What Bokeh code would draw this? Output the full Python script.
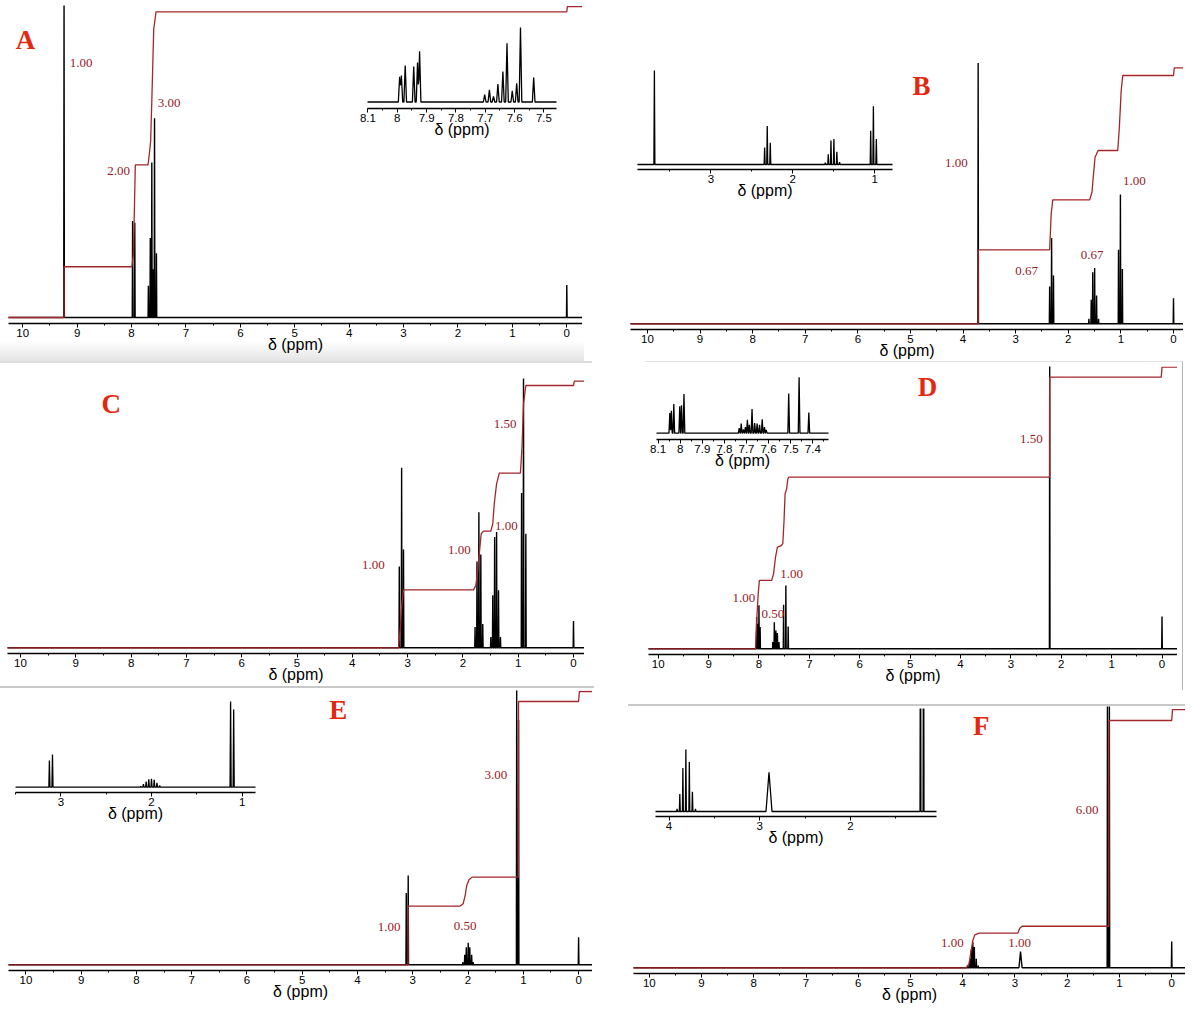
import numpy as np
from bokeh.plotting import figure
from bokeh.models import Range1d, SingleIntervalTicker, CustomJSTickFormatter, GridBox, Div
from bokeh.core.properties import value
from bokeh.embed import file_html
from bokeh.resources import INLINE

# ------------------------------------------------------------------ data
# Panel A (main spectrum: peak positions in ppm, relative heights)
A_ppm = [9.24, 7.98, 7.94, 7.69, 7.655, 7.627, 7.606, 7.577, 7.542, 0.0]
A_h = [1.05, 0.316, 0.31, 0.104, 0.26, 0.507, 0.158, 0.652, 0.21, 0.106]
A_int_ppm = [10.5, 9.24, 9.24, 7.993, 7.965, 7.93, 7.697, 7.676, 7.648, 7.627, 7.592, 7.55, 0.0, -0.01, -0.5]
A_int_val = [0, 0, 0.166, 0.166, 0.207, 0.499, 0.499, 0.529, 0.578, 0.709, 0.943, 1.0, 1.0, 1.017, 1.017]
A_labels = ["1.00", "3.00", "2.00"]
A_ins_ppm = [7.992, 7.986, 7.973, 7.944, 7.931, 7.924, 7.702, 7.686, 7.672, 7.657,
             7.64, 7.626, 7.608, 7.593, 7.58, 7.535]
A_ins_h = [0.34, 0.355, 0.49, 0.475, 0.53, 0.68, 0.1, 0.165, 0.075, 0.24,
           0.41, 0.79, 0.15, 0.25, 1.0, 0.33]

# Panel B
B_ppm = [3.713, 2.354, 2.317, 2.281, 1.608, 1.564, 1.535, 1.499, 1.462, 1.425, 1.045, 1.009, 0.972, 0.0]
B_h = [1.05, 0.15, 0.346, 0.195, 0.02, 0.097, 0.208, 0.225, 0.114, 0.02, 0.298, 0.521, 0.221, 0.103]
B_int_ppm = [10.5, 3.713, 3.713, 2.354, 2.325, 2.295, 1.594, 1.55, 1.52, 1.491, 1.433, 1.06, 1.031,
             0.994, 0.965, 0.0, -0.015, -0.5]
B_int_val = [0, 0, 0.298, 0.298, 0.443, 0.499, 0.499, 0.53, 0.604, 0.671, 0.698, 0.698, 0.785,
             0.94, 1.0, 1.0, 1.031, 1.031]
B_labels = ["1.00", "1.00", "0.67", "0.67"]
B_ins_ppm = [3.69, 2.344, 2.312, 2.275, 1.603, 1.567, 1.534, 1.498, 1.462, 1.429, 1.049, 1.016, 0.98]
B_ins_h = [1.0, 0.18, 0.41, 0.23, 0.02, 0.11, 0.255, 0.27, 0.135, 0.025, 0.36, 0.62, 0.27]

# Panel C
C_ppm = [3.15, 3.108, 3.074, 1.78, 1.745, 1.711, 1.676, 1.641, 1.495, 1.46, 1.426, 1.391, 1.356,
         1.321, 0.939, 0.904, 0.862, 0.0]
C_h = [0.31, 0.686, 0.375, 0.079, 0.329, 0.517, 0.356, 0.091, 0.041, 0.2, 0.422, 0.441, 0.219,
       0.041, 0.59, 1.03, 0.435, 0.102]
C_int_ppm = [10.5, 3.164, 3.129, 3.108, 3.074, 1.808, 1.766, 1.739, 1.704, 1.669, 1.627, 1.495, 1.46,
             1.433, 1.391, 1.342, 0.96, 0.932, 0.904, 0.862, 0.0, -0.014, -0.5]
C_int_val = [0, 0, 0.079, 0.155, 0.221, 0.221, 0.238, 0.282, 0.358, 0.435, 0.445, 0.445, 0.473,
             0.549, 0.625, 0.666, 0.666, 0.762, 0.93, 1.0, 1.0, 1.017, 1.017]
C_labels = ["1.50", "1.00", "1.00", "1.00"]

# Panel D
D_ppm = [8.046, 8.023, 8.0, 7.977, 7.725, 7.695, 7.664, 7.634, 7.603, 7.511, 7.466, 7.42, 2.229, 0.0]
D_h = [0.117, 0.092, 0.16, 0.08, 0.025, 0.098, 0.067, 0.058, 0.025, 0.162, 0.233, 0.082, 1.06, 0.119]
D_int_ppm = [10.5, 8.069, 8.038, 8.015, 7.992, 7.748, 7.71, 7.672, 7.634, 7.557, 7.527, 7.504, 7.481,
             7.45, 7.427, 7.405, 2.229, 2.229, 0.015, 0.0, -0.5]
D_int_val = [0, 0, 0.129, 0.202, 0.252, 0.252, 0.276, 0.337, 0.374, 0.38, 0.387, 0.466, 0.571,
             0.589, 0.626, 0.632, 0.632, 1.0, 1.0, 1.037, 1.037]
D_labels = ["1.50", "1.00", "1.00", "0.50"]
D_ins_ppm = [8.047, 8.04, 8.029, 8.002, 7.994, 7.983, 7.733, 7.724, 7.714, 7.705, 7.696, 7.687,
             7.675, 7.663, 7.652, 7.641, 7.629, 7.619, 7.611, 7.509, 7.462, 7.418]
D_ins_h = [0.36, 0.40, 0.52, 0.48, 0.50, 0.70, 0.09, 0.17, 0.07, 0.11, 0.24, 0.15,
           0.43, 0.18, 0.17, 0.15, 0.25, 0.11, 0.06, 0.71, 1.0, 0.37]

# Panel E
E_ppm = [3.118, 3.083, 2.095, 2.06, 2.032, 1.997, 1.969, 1.935, 1.907, 1.12, 1.086, 0.0]
E_h = [0.273, 0.339, 0.01, 0.038, 0.067, 0.084, 0.067, 0.038, 0.01, 1.06, 0.93, 0.105]
E_int_ppm = [10.5, 3.086, 3.083, 2.143, 2.088, 2.053, 2.025, 1.983, 1.928, 1.09, 1.086, 0.0, -0.014, -0.5]
E_int_val = [0, 0, 0.223, 0.223, 0.232, 0.263, 0.301, 0.323, 0.333, 0.333, 1.0, 1.0, 1.038, 1.038]
E_labels = ["3.00", "1.00", "0.50"]
E_ins_ppm = [3.127, 3.093, 2.119, 2.089, 2.059, 2.03, 2.0, 1.97, 1.94, 1.91, 1.127, 1.093]
E_ins_h = [0.31, 0.38, 0.008, 0.035, 0.066, 0.093, 0.097, 0.086, 0.05, 0.02, 1.0, 0.907]

# Panel F
F_ppm = [3.903, 3.866, 3.836, 3.807, 3.778, 3.741, 3.704, 2.894, 1.23, 1.193, 0.0]
F_h = [0.009, 0.036, 0.074, 0.104, 0.084, 0.036, 0.009, 0.066, 1.07, 1.07, 0.106]
F_w = [0.006, 0.006, 0.006, 0.006, 0.006, 0.006, 0.006, 0.03, 0.006, 0.006, 0.006]
F_int_ppm = [10.5, 3.94, 3.88, 3.844, 3.807, 3.77, 3.682, 2.946, 2.909, 2.864, 1.205, 1.2, 0.0, -0.015, -0.5]
F_int_val = [0, 0, 0.016, 0.063, 0.11, 0.133, 0.14, 0.14, 0.16, 0.168, 0.168, 1.0, 1.0, 1.044, 1.044]
F_labels = ["6.00", "1.00", "1.00"]
F_ins_ppm = [3.911, 3.881, 3.847, 3.814, 3.776, 3.742, 3.708, 2.898, 1.229, 1.195]
F_ins_h = [0.043, 0.28, 0.70, 1.0, 0.80, 0.32, 0.043, 0.634, 4.0, 4.0]
F_ins_w = [0.005, 0.005, 0.005, 0.005, 0.005, 0.005, 0.005, 0.033, 0.005, 0.005]

# ------------------------------------------------------------------ layout (pixels on the page)
MAIN = {
    "A": dict(left=8, right=582, top=5, bottom=323.3, xa=(22.2, 10, 54.41), base=317, unit=305.7),
    "B": dict(left=630, right=1182.7, top=60, bottom=329.3, xa=(646.9, 10, 52.61), base=323.3, unit=248.3),
    "C": dict(left=7, right=583.8, top=378, bottom=653.3, xa=(20, 10, 55.3), base=647.3, unit=262.3),
    "D": dict(left=648.1, right=1176.9, top=366, bottom=654, xa=(657.7, 10, 50.38), base=648.3, unit=271.6),
    "E": dict(left=8.5, right=592.3, top=690, bottom=970, xa=(25.4, 10, 55.27), base=964.3, unit=263.3),
    "F": dict(left=632.7, right=1184.6, top=706, bottom=972.7, xa=(648.8, 10, 52.24), base=967.3, unit=247.3),
}
INSET = {
    "A": dict(left=367, right=556.5, top=18, bottom=107.8, xa=(396.8, 8.0, 293.3), base=101.5, unit=74.5, tick=0.1, w=0.0045),
    "B": dict(left=637.3, right=892.3, top=62, bottom=169.3, xa=(710.4, 3, 81.9), base=164, unit=94, tick=1, w=0.006),
    "D": dict(left=656.5, right=827.7, top=370, bottom=439.3, xa=(656.5, 8.105, 221), base=432.7, unit=56, tick=0.1, w=0.0038),
    "E": dict(left=14.6, right=254.6, top=695, bottom=792.3, xa=(60.4, 3, 90.6), base=786.7, unit=85.7, tick=1, w=0.006),
    "F": dict(left=655, right=936.5, top=708, bottom=816, xa=(668.5, 4, 90.75), base=811, unit=62, tick=1, w=None),
}
# label positions (ppm, intensity) for each panel's integration labels and panel letter
LABEL_POS = {
    "A": [(8.928, 0.834), (7.309, 0.701), (8.239, 0.479)],
    "B": [(4.129, 0.647), (0.745, 0.577), (2.794, 0.212), (1.549, 0.279)],
    "C": [(1.237, 0.854), (1.215, 0.466), (2.065, 0.371), (3.617, 0.314)],
    "D": [(2.594, 0.773), (7.35, 0.276), (8.297, 0.186), (7.725, 0.129)],
    "E": [(1.496, 0.719), (3.43, 0.143), (2.054, 0.147)],
    "F": [(1.621, 0.64), (4.198, 0.101), (2.91, 0.101)],
}
LETTER_POS = {"A": (9.949, 0.909), "B": (4.79, 0.956), "C": (8.358, 0.93),
              "D": (4.657, 0.963), "E": (4.35, 0.966), "F": (3.645, 0.977)}

INT_COLOR = "#a3262a"
LABEL_COLOR = "#97201f"
LETTER_COLOR = "#e4280f"
SANS = "Liberation Sans"
SERIF = "Liberation Serif"
BORDER = 12   # left canvas border kept around every frame


def trace(ppm, h, w, lo, hi):
    """Spectrum line built from the peak list (narrow triangular lines)."""
    ppm = np.asarray(ppm, float)
    h = np.asarray(h, float)
    w = np.broadcast_to(np.asarray(w, float), ppm.shape)
    xs = np.unique(np.concatenate([[lo, hi], ppm - w, ppm, ppm + w]))
    ys = np.zeros_like(xs)
    for c, a, ww in zip(ppm, h, w):
        ys += a * np.clip(1.0 - np.abs(xs - c) / ww, 0.0, None)
    return xs, ys


def make_fig(cfg, interval, pad_right):
    L = int(round(cfg["left"]))
    T = max(int(round(cfg["top"])), 0)
    W = int(round(cfg["right"])) - L
    H = int(round(cfg["bottom"])) - T
    apx, aval, sx = cfg["xa"]
    x0 = aval + (apx - L) / sx
    x1 = aval - (L + W - apx) / sx
    y0 = -(T + H - cfg["base"]) / cfg["unit"]
    y1 = (cfg["base"] - T) / cfg["unit"]
    p = figure(frame_width=W, frame_height=H,
               x_range=Range1d(x0, x1), y_range=Range1d(y0, y1),
               output_backend="svg", toolbar_location=None, tools="",
               y_axis_location=None,
               min_border_left=BORDER, min_border_right=pad_right, min_border_top=0, min_border_bottom=0,
               margin=(T, 0, 0, L - BORDER),
               background_fill_color=None, border_fill_color=None, outline_line_color=None)
    p.grid.visible = False
    ax = p.xaxis[0]
    ax.ticker = SingleIntervalTicker(interval=interval, num_minor_ticks=2)
    ax.formatter = CustomJSTickFormatter(code="return String(Math.round(tick * 10) / 10);")
    ax.axis_line_width = 1.7
    ax.axis_line_color = "black"
    ax.major_tick_line_color = "black"
    ax.minor_tick_line_color = "black"
    ax.major_tick_out = 4
    ax.major_tick_in = 0
    ax.minor_tick_out = 2
    ax.minor_tick_in = 0
    ax.major_label_standoff = 1
    ax.major_label_text_font = SANS
    ax.major_label_text_font_size = "11.5px"
    ax.major_label_text_color = "black"
    ax.axis_label = "δ (ppm)"
    ax.axis_label_text_font = SANS
    ax.axis_label_text_font_style = "normal"
    ax.axis_label_text_font_size = "16px"
    ax.axis_label_text_color = "black"
    ax.axis_label_standoff = -4
    return p


MAIN_DATA = {
    "A": (A_ppm, A_h, 0.006, A_int_ppm, A_int_val, A_labels),
    "B": (B_ppm, B_h, 0.006, B_int_ppm, B_int_val, B_labels),
    "C": (C_ppm, C_h, 0.006, C_int_ppm, C_int_val, C_labels),
    "D": (D_ppm, D_h, 0.006, D_int_ppm, D_int_val, D_labels),
    "E": (E_ppm, E_h, 0.006, E_int_ppm, E_int_val, E_labels),
    "F": (F_ppm, F_h, F_w, F_int_ppm, F_int_val, F_labels),
}
INSET_DATA = {
    "A": (A_ins_ppm, A_ins_h, None),
    "B": (B_ins_ppm, B_ins_h, None),
    "D": (D_ins_ppm, D_ins_h, None),
    "E": (E_ins_ppm, E_ins_h, None),
    "F": (F_ins_ppm, F_ins_h, F_ins_w),
}

children = []

# faint screenshot frame lines / shading
DECOS = [
    (0, 341, 584, 21, "linear-gradient(#ffffff, #e3e3e3)"),
    (0, 361, 592, 2, "#dddddd"),
    (0, 686, 594, 2, "#c9c9c9"),
    (628, 704, 557, 2, "#c9c9c9"),
    (645, 361, 538, 1, "#e4e4e4"),
    (1182, 362, 1, 328, "#b4b4b4"),
]
for (l, t, w, h, bg) in DECOS:
    children.append((Div(text="", width=w, height=h, margin=(t, 0, 0, l),
                         styles={"background": bg}), 0, 0))

for key, cfg in MAIN.items():
    ppm, hh, ww, ippm, ival, labels = MAIN_DATA[key]
    p = make_fig(cfg, 1, 0)
    lo = min(p.x_range.start, p.x_range.end) - 0.2
    hi = max(p.x_range.start, p.x_range.end) + 0.2
    xs, ys = trace(ppm, hh, ww, lo, hi)
    p.line(xs, ys, line_color="black", line_width=1.4)
    p.line(ippm, ival, line_color=INT_COLOR, line_width=1.3)
    pos = LABEL_POS[key]
    p.text(x=[q[0] for q in pos], y=[q[1] for q in pos], text=labels,
           text_font=value(SERIF), text_font_size=value("13px"), text_color=LABEL_COLOR,
           text_align="center", text_baseline="middle")
    lx, ly = LETTER_POS[key]
    p.text(x=[lx], y=[ly], text=[key], text_font=value(SERIF), text_font_style="bold",
           text_font_size=value("27px"), text_color=LETTER_COLOR,
           text_align="center", text_baseline="middle")
    children.append((p, 0, 0))

for key, cfg in INSET.items():
    ppm, hh, ww = INSET_DATA[key]
    p = make_fig(cfg, cfg["tick"], 12)
    lo = min(p.x_range.start, p.x_range.end) - 0.05
    hi = max(p.x_range.start, p.x_range.end) + 0.05
    xs, ys = trace(ppm, hh, ww if ww is not None else cfg["w"], lo, hi)
    p.line(xs, ys, line_color="black", line_width=1.3)
    children.append((p, 0, 0))

grid = GridBox(children=children)
open("out.html", "w").write(file_html(grid, INLINE))
